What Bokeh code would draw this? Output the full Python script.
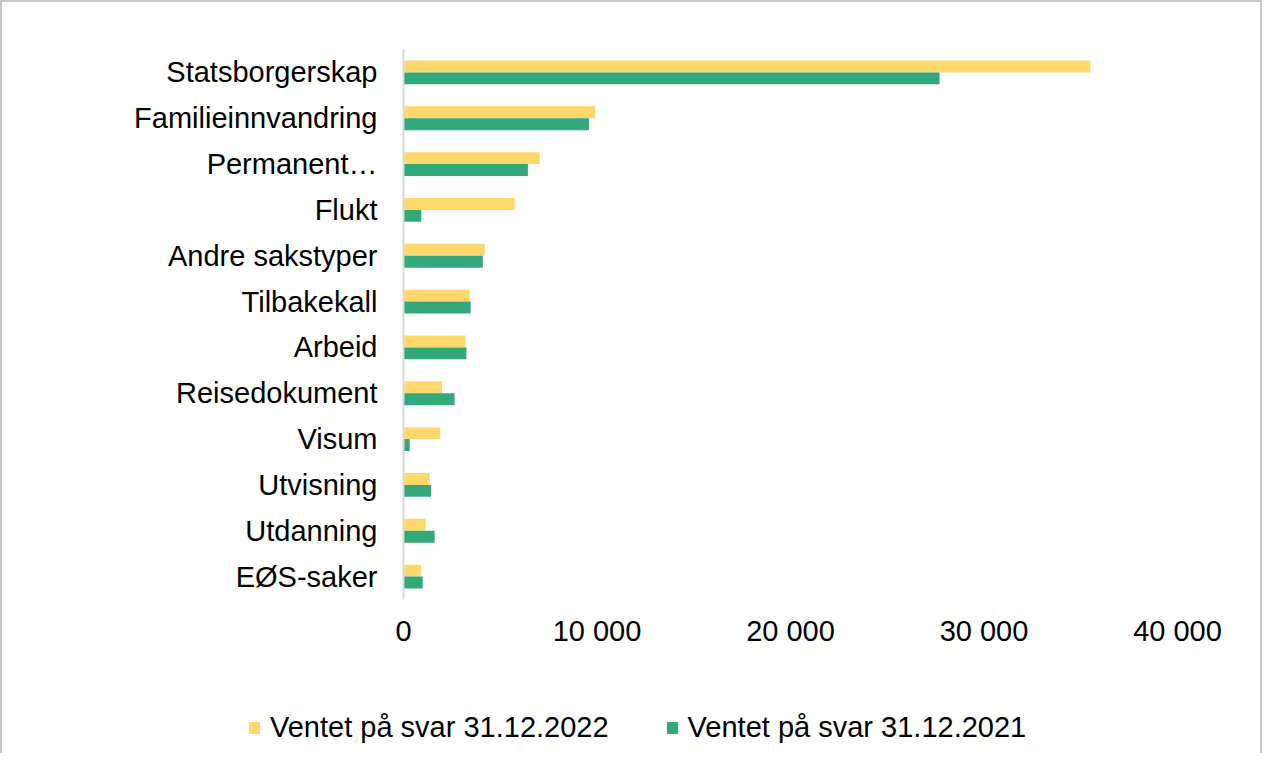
from bokeh.plotting import figure
from bokeh.models import ColumnDataSource, FixedTicker, Legend, LegendItem, Range1d, FactorRange
from bokeh.layouts import column
from bokeh.transform import dodge
from bokeh.embed import file_html
from bokeh.resources import INLINE

categories = ["Statsborgerskap", "Familieinnvandring", "Permanent\u2026", "Flukt",
              "Andre sakstyper", "Tilbakekall", "Arbeid", "Reisedokument",
              "Visum", "Utvisning", "Utdanning", "EØS-saker"]
values_2022 = [35500, 9900, 7040, 5750, 4200, 3420, 3200, 1990, 1900, 1350, 1150, 920]
values_2021 = [27700, 9590, 6430, 920, 4100, 3470, 3250, 2640, 320, 1420, 1610, 990]
series_names = ["Ventet på svar 31.12.2022", "Ventet på svar 31.12.2021"]
tick_values = [0, 10000, 20000, 30000, 40000]
tick_labels = ["0", "10 000", "20 000", "30 000", "40 000"]

YELLOW = "#FFD86C"
GREEN = "#33A87A"
FONT = "Liberation Sans"
FS = "29px"
BORDER = "2px solid #c8c8c8"

src = ColumnDataSource(dict(cat=categories, v22=values_2022, v21=values_2021))

H_MAIN = 665
H_LEG = 88

p = figure(width=1262, height=H_MAIN, output_backend="svg", toolbar_location=None,
           y_range=FactorRange(factors=categories[::-1]),
           x_range=Range1d(0, 40000),
           min_border_left=401, min_border_right=87, min_border_top=47,
           min_border_bottom=H_MAIN - 597)
p.frame_align = False
p.styles = {"border-top": BORDER, "border-left": BORDER, "border-right": BORDER}

r1 = p.hbar(y=dodge("cat", 0.13, range=p.y_range), right="v22", left=0, height=0.26,
            source=src, fill_color=YELLOW, line_color=None)
r2 = p.hbar(y=dodge("cat", -0.13, range=p.y_range), right="v21", left=0, height=0.26,
            source=src, fill_color=GREEN, line_color=None)

p.outline_line_color = None
p.xgrid.visible = False
p.ygrid.visible = False
p.background_fill_color = "white"
p.border_fill_color = "white"

xa = p.xaxis[0]
xa.ticker = FixedTicker(ticks=tick_values)
xa.major_label_overrides = {t: l for t, l in zip(tick_values, tick_labels)}
xa.axis_line_color = None
xa.major_tick_line_color = None
xa.minor_tick_line_color = None
xa.major_label_text_font = FONT
xa.major_label_text_font_size = FS
xa.major_label_text_color = "#000000"
xa.major_label_standoff = 9

ya = p.yaxis[0]
ya.axis_line_color = "#d9d9d9"
ya.axis_line_width = 2
ya.major_tick_line_color = None
ya.minor_tick_line_color = None
ya.major_label_text_font = FONT
ya.major_label_text_font_size = FS
ya.major_label_text_color = "#000000"
ya.major_label_standoff = 20

# legend strip below the chart
lg = figure(width=1262, height=H_LEG, output_backend="svg", toolbar_location=None,
            x_range=Range1d(-10, -5), y_range=FactorRange(factors=categories[::-1]),
            x_axis_type=None, y_axis_type=None,
            min_border_left=0, min_border_right=0, min_border_top=0, min_border_bottom=0)
lg.frame_align = False
lg.styles = {"border-left": BORDER, "border-right": BORDER}
lg.outline_line_color = None
lg.xgrid.visible = False
lg.ygrid.visible = False
l1 = lg.hbar(y="cat", right="v22", left=0, height=0.26, source=src,
             fill_color=YELLOW, line_color=None)
l2 = lg.hbar(y="cat", right="v21", left=0, height=0.26, source=src,
             fill_color=GREEN, line_color=None)

legend = Legend(items=[LegendItem(label=series_names[0], renderers=[l1]),
                       LegendItem(label=series_names[1], renderers=[l2])],
                orientation="horizontal", location=(245, 9),
                label_text_font=FONT, label_text_font_size=FS,
                label_text_color="#000000",
                glyph_width=14, glyph_height=15, label_standoff=9, spacing=56,
                padding=0, margin=0, border_line_color=None,
                background_fill_alpha=0)
lg.add_layout(legend, "center")

layout = column(p, lg, spacing=0)
open("out.html", "w").write(file_html(layout, INLINE))
